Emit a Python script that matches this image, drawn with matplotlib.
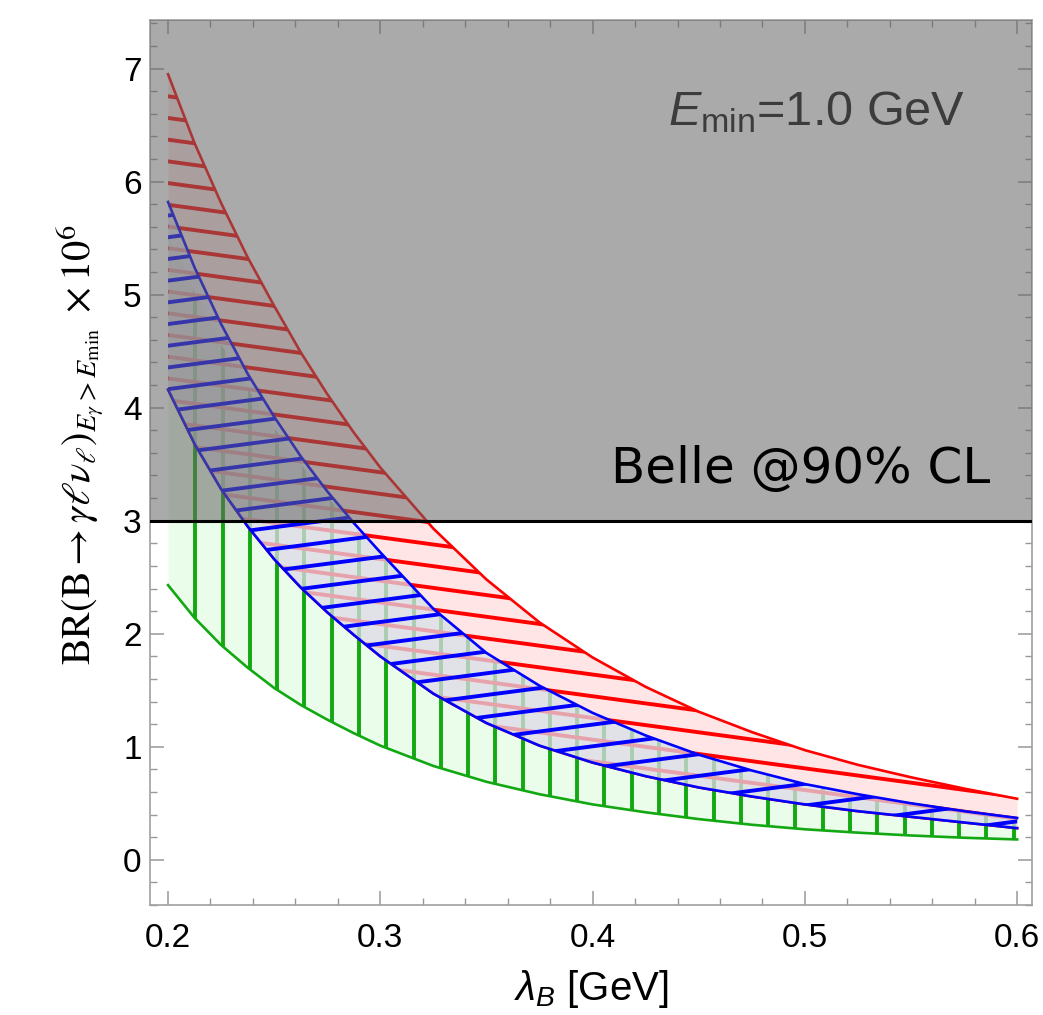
import numpy as np
import matplotlib
matplotlib.use("Agg")
import matplotlib.pyplot as plt
from matplotlib.collections import LineCollection
from matplotlib.ticker import MultipleLocator, FormatStrFormatter

plt.rcParams["font.family"] = ["Liberation Sans", "DejaVu Sans"]
plt.rcParams["mathtext.fontset"] = "custom"
plt.rcParams["mathtext.rm"] = "Liberation Sans"
plt.rcParams["mathtext.it"] = "Liberation Sans:italic"
plt.rcParams["mathtext.bf"] = "Liberation Sans:bold"

# lambda_B grid [GeV]
lam = [0.200, 0.2125, 0.225, 0.2375, 0.250, 0.2625, 0.275, 0.2875, 0.300,
       0.325, 0.350, 0.375, 0.400, 0.425, 0.450, 0.475, 0.500, 0.525,
       0.550, 0.575, 0.600]

red_hi = [6.95, 6.34, 5.81, 5.33, 4.90, 4.49, 4.12, 3.78, 3.47,
          2.93, 2.48, 2.10, 1.79, 1.53, 1.31, 1.13, 0.97, 0.84,
          0.73, 0.63, 0.54]
blue_hi = [5.82, 5.24, 4.74, 4.30, 3.92, 3.57, 3.26, 2.98, 2.72,
           2.22, 1.83, 1.54, 1.30, 1.10, 0.93, 0.79, 0.67, 0.58,
           0.50, 0.43, 0.37]
blue_lo = [4.16, 3.68, 3.28, 2.95, 2.66, 2.41, 2.19, 1.99, 1.80,
           1.47, 1.21, 1.01, 0.86, 0.74, 0.64, 0.56, 0.49, 0.43,
           0.38, 0.33, 0.28]
red_lo = blue_lo
green_hi = [5.55, 5.02, 4.56, 4.17, 3.82, 3.50, 3.21, 2.94, 2.70,
            2.21, 1.82, 1.53, 1.29, 1.09, 0.93, 0.79, 0.67, 0.58,
            0.50, 0.43, 0.37]
green_lo = [2.43, 2.14, 1.90, 1.70, 1.52, 1.37, 1.24, 1.12, 1.01,
            0.83, 0.69, 0.58, 0.49, 0.42, 0.36, 0.31, 0.27, 0.24,
            0.215, 0.195, 0.18]

belle_limit = 3.0

RED = "#ff0000"
BLUE = "#0000ff"
GREEN = "#12a812"


def hatch(ax, coll, segs, color, lw, z):
    lc = LineCollection(segs, colors=color, linewidths=lw, zorder=z,
                        capstyle="butt")
    ax.add_collection(lc)
    lc.set_clip_path(coll.get_paths()[0], ax.transData)
    return lc


def slanted(y_start, dy, slope, n_lo, n_hi):
    segs = []
    for k in range(n_lo, n_hi):
        y0 = y_start + k * dy
        segs.append([(0.15, y0 + slope * (0.15 - 0.2)),
                     (0.65, y0 + slope * (0.65 - 0.2))])
    return segs


fig = plt.figure(figsize=(10.43, 10.15), dpi=100)
ax = fig.add_axes([150 / 1043, 1 - 905 / 1015, 882 / 1043, 885 / 1015])
ax.set_xlim(0.1915, 0.607)
ax.set_ylim(-0.40, 7.43)

x = np.array(lam)

# green band (vertical hatching)
g = ax.fill_between(x, green_lo, green_hi, color="#eafcea", lw=0, zorder=1)
vsegs = [[(0.2 + k * 0.01285, -1), (0.2 + k * 0.01285, 8)] for k in range(1, 33)]
hatch(ax, g, vsegs, GREEN, 2.8, 1.1)
ax.plot(x, green_lo, color=GREEN, lw=1.9, zorder=1.2)

# red band
r = ax.fill_between(x, red_lo, red_hi, color=RED, alpha=0.10, lw=0, zorder=2)
hatch(ax, r, slanted(6.755, -0.192, -2.54, -10, 60), RED, 2.8, 2.1)
ax.plot(x, red_hi, color=RED, lw=1.9, zorder=2.2)
ax.plot(x, red_lo, color=RED, lw=1.9, zorder=2.2)

# blue band
b = ax.fill_between(x, blue_lo, blue_hi, color="#dde3f0", alpha=0.72,
                    lw=0, zorder=3)
hatch(ax, b, slanted(5.316, -0.192, 2.44, -20, 60), BLUE, 2.8, 3.1)
ax.plot(x, blue_hi, color=BLUE, lw=1.9, zorder=3.2)
ax.plot(x, blue_lo, color=BLUE, lw=1.9, zorder=3.2)

# excluded region
ax.axhspan(belle_limit, 10, color="#646464", alpha=0.55, lw=0, zorder=4)
ax.axhline(belle_limit, color="black", lw=2.2, zorder=5)

ax.text(0.5755, 6.50, r"$E_{\mathrm{min}}$=1.0 GeV", fontsize=35,
        color="#3c3c3c", ha="right", va="baseline", zorder=6)
ax.text(0.5873, 3.336, "Belle @90% CL", fontsize=36, family="DejaVu Sans",
        color="black", ha="right", va="baseline", zorder=6)

ax.set_xlabel(r"$\lambda_B$ [GeV]", fontsize=29, labelpad=10)
ax.set_ylabel(r"$\mathrm{BR}(\mathrm{B}\to\gamma\ell\nu_\ell)_{E_\gamma>E_{\min}}\;\times 10^{6}$",
              fontsize=29, math_fontfamily="stix")
ax.yaxis.set_label_coords(-0.05, 0.52)

ax.xaxis.set_major_locator(MultipleLocator(0.1))
ax.xaxis.set_minor_locator(MultipleLocator(0.02))
ax.xaxis.set_major_formatter(FormatStrFormatter("%.1f"))
ax.yaxis.set_major_locator(MultipleLocator(1))
ax.yaxis.set_minor_locator(MultipleLocator(0.2))
ax.tick_params(which="both", direction="in", top=True, right=True,
               color="#999999", labelsize=24, labelcolor="black")
ax.tick_params(which="major", length=10, width=1.1)
ax.tick_params(which="minor", length=5, width=1.0)
ax.tick_params(axis="x", pad=13)
ax.tick_params(axis="y", pad=6)
for s in ax.spines.values():
    s.set_color("#a0a0a0")
    s.set_linewidth(1.2)

fig.savefig("out.png", dpi=100)
